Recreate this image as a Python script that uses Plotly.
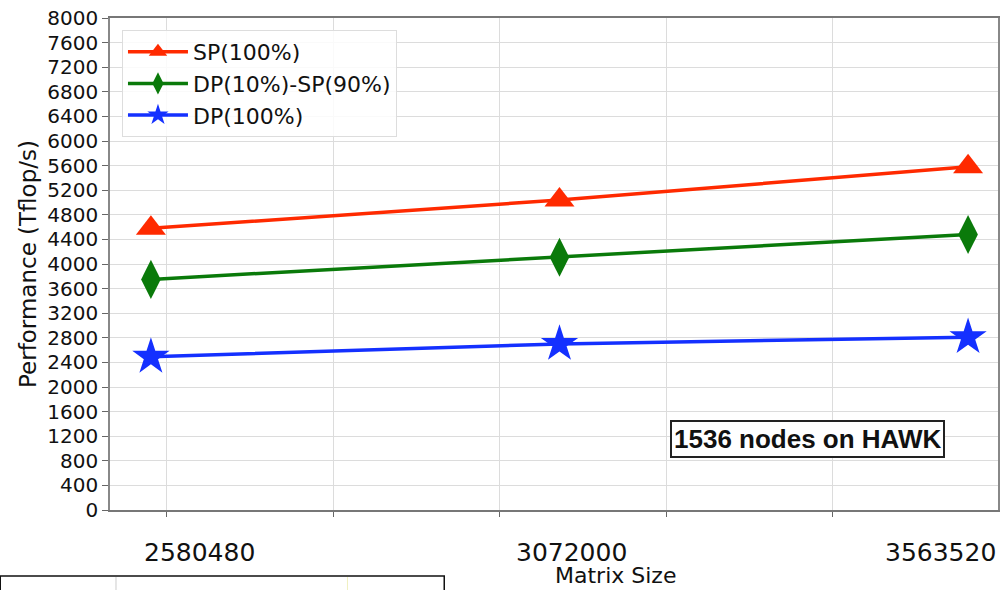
import plotly.graph_objects as go

# Matrix sizes and measured performance (Tflop/s)
matrix_sizes = [2580480, 3072000, 3563520]
size_labels = ["2580480", "3072000", "3563520"]
sp_100 = [4580, 5040, 5580]
dp10_sp90 = [3750, 4110, 4480]
dp_100 = [2490, 2700, 2810]

series_names = ["SP(100%)", "DP(10%)-SP(90%)", "DP(100%)"]
series_values = [sp_100, dp10_sp90, dp_100]
series_colors = ["#ff2a00", "#0a7a0a", "#1430ff"]
series_symbols = ["triangle-up", "diamond-tall", "star"]
series_sizes = [26, 28, 28]

W, H = 1000, 590
L, R, T, B = 110, 0, 18, 80
PW, PH = W - L - R, H - T - B


def px_x(px):
    """Horizontal pixel -> paper coordinate."""
    return (px - L) / PW


def px_y(py):
    """Vertical pixel (from top) -> paper coordinate."""
    return (H - B - py) / PH


fig = go.Figure()
for name, vals, col, sym, sz in zip(series_names, series_values, series_colors,
                                    series_symbols, series_sizes):
    fig.add_trace(go.Scatter(
        x=matrix_sizes, y=vals, name=name, mode="lines+markers",
        legendgroup=name,
        line=dict(color=col, width=3.5),
        marker=dict(symbol=sym, size=sz, color=col, line=dict(width=0)),
    ))

# Category labels below the axis, slightly offset from the points
label_shifts = [49, 12, -28]
for xv, txt, dx in zip(matrix_sizes, size_labels, label_shifts):
    fig.add_annotation(x=xv, y=px_y(552), xref="x", yref="paper", text=txt,
                       showarrow=False, xshift=dx, xanchor="center",
                       yanchor="middle",
                       font=dict(family="DejaVu Sans", size=25, color="#111"))

fig.add_annotation(x=px_x(617), y=px_y(590), xref="paper", yref="paper",
                   text="Matrix Size", showarrow=False,
                   xanchor="center", yanchor="bottom",
                   font=dict(family="DejaVu Sans", size=22, color="#111"))

fig.add_annotation(
    x=px_x(809), y=px_y(438.5), xref="paper", yref="paper",
    xanchor="center", yanchor="middle",
    text="<b>1536 nodes on HAWK</b>", showarrow=False,
    font=dict(family="Liberation Sans", size=26, color="#111"),
    bordercolor="#222", borderwidth=2, borderpad=2, bgcolor="white",
)

fig.update_layout(
    width=W, height=H,
    margin=dict(l=L, r=R, t=T, b=B),
    paper_bgcolor="white", plot_bgcolor="white",
    font=dict(family="DejaVu Sans", color="#111"),
    showlegend=True,
    legend=dict(
        x=px_x(122), y=px_y(30), xanchor="left", yanchor="top",
        bgcolor="rgba(255,255,255,0.85)", bordercolor="#dddddd", borderwidth=1,
        font=dict(family="DejaVu Sans", size=22, color="#111"),
        itemsizing="trace", itemwidth=60, tracegroupgap=0,
    ),
    xaxis=dict(
        range=[2531268, 3599529],
        tick0=2599685, dtick=200209, tickmode="linear",
        showticklabels=False, ticks="outside", ticklen=5, tickcolor="#666",
        showgrid=True, gridcolor="#dcdcdc", gridwidth=1,
        showline=True, linecolor="#777", linewidth=1.5, mirror=True,
        zeroline=False,
    ),
    yaxis=dict(
        range=[0, 8000], tick0=0, dtick=400, tickmode="linear",
        ticks="outside", ticklen=6, tickcolor="#666",
        tickfont=dict(family="DejaVu Sans", size=20, color="#111"),
        showgrid=True, gridcolor="#dcdcdc", gridwidth=1,
        showline=True, linecolor="#888", linewidth=1.5, mirror=True,
        zeroline=False,
        title=dict(text="Performance (Tflop/s)", standoff=4,
                   font=dict(family="DejaVu Sans", size=23, color="#111")),
    ),
)

# Edge of a neighbouring panel at the bottom left
fig.add_shape(type="rect", xref="paper", yref="paper",
              x0=px_x(0), x1=px_x(445), y0=px_y(600), y1=px_y(576),
              line=dict(color="#111", width=1.5), fillcolor="rgba(0,0,0,0)")
fig.add_shape(type="line", xref="paper", yref="paper",
              x0=px_x(116), x1=px_x(116), y0=px_y(600), y1=px_y(577),
              line=dict(color="#cccccc", width=1))
fig.add_shape(type="line", xref="paper", yref="paper",
              x0=px_x(348), x1=px_x(348), y0=px_y(600), y1=px_y(577),
              line=dict(color="#f0f0c0", width=1))

fig.write_html("out.html")
